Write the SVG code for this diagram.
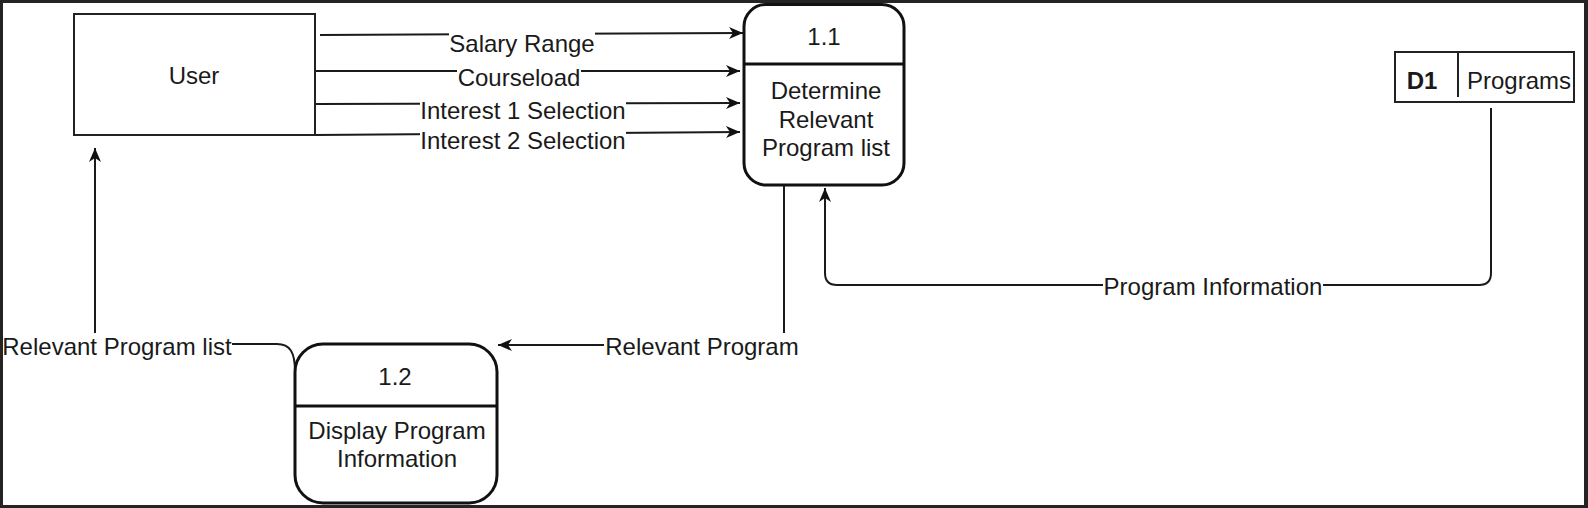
<svg xmlns="http://www.w3.org/2000/svg" width="1588" height="508" viewBox="0 0 1588 508">
<defs>
<marker id="arr" markerUnits="userSpaceOnUse" markerWidth="16" markerHeight="14" refX="14" refY="6" orient="auto">
<path d="M0,0 L14,6 L0,12 L4,6 Z" fill="#111"/>
</marker>
<style>
.t{font-family:"Liberation Sans",Arial,sans-serif;font-size:24px;fill:#1a1a1a;text-anchor:middle}
.b{font-weight:bold}
.edge{fill:none;stroke:#1a1a1a;stroke-width:2}
.proc{fill:#fff;stroke:#111;stroke-width:3}
.ent{fill:#fff;stroke:#222;stroke-width:2}
.lbl{fill:#fff}
</style>
</defs>
<rect x="0" y="0" width="1588" height="508" fill="#242424"/>
<rect x="3" y="3" width="1581" height="502" fill="#fff"/>

<g id="connectors">
<path class="edge" d="M320 35 L743 33" marker-end="url(#arr)"/>
<path class="edge" d="M315 71 L740 71" marker-end="url(#arr)"/>
<path class="edge" d="M315 104 L740 103" marker-end="url(#arr)"/>
<path class="edge" d="M315 135 L740 132" marker-end="url(#arr)"/>
<path class="edge" d="M784 186 L784 345 L498 345" marker-end="url(#arr)"/>
<path class="edge" d="M1491 108 L1491 273 Q1491 285 1479 285 L837 285 Q825 285 825 273 L825 188" marker-end="url(#arr)"/>
<path class="edge" d="M295 372 C295 352 290 344 277 344 L95 344 L95 148" marker-end="url(#arr)"/>
<rect class="lbl" x="449" y="31" width="146" height="26"/>
<text class="t" x="522" y="52">Salary Range</text>
<rect class="lbl" x="457" y="65" width="124" height="26"/>
<text class="t" x="519" y="86">Courseload</text>
<rect class="lbl" x="420" y="98" width="206" height="26"/>
<text class="t" x="523" y="119">Interest 1 Selection</text>
<rect class="lbl" x="420" y="128" width="206" height="26"/>
<text class="t" x="523" y="149">Interest 2 Selection</text>
<rect class="lbl" x="1103" y="273" width="220" height="27"/>
<text class="t" x="1213" y="295">Program Information</text>
<rect class="lbl" x="604" y="333" width="196" height="27"/>
<text class="t" x="702" y="355">Relevant Program</text>
<rect class="lbl" x="3" y="333" width="229" height="27"/>
<text class="t" x="117" y="355">Relevant Program list</text>
</g>

<g id="user">
<rect class="ent" x="74" y="14" width="241" height="121"/>
<text class="t" x="194" y="84">User</text>
</g>

<g id="p11">
<rect class="proc" x="744" y="4.5" width="160" height="180.5" rx="22"/>
<line x1="744" y1="64" x2="904" y2="64" stroke="#111" stroke-width="3"/>
<text class="t" x="824" y="45">1.1</text>
<text class="t" x="826" y="99">Determine</text>
<text class="t" x="826" y="128">Relevant</text>
<text class="t" x="826" y="156">Program list</text>
</g>

<g id="d1">
<rect class="ent" x="1395" y="52" width="179" height="50"/>
<line x1="1458" y1="52" x2="1458" y2="97" stroke="#222" stroke-width="2"/>
<text class="t b" x="1422" y="89">D1</text>
<text class="t" x="1519" y="89">Programs</text>
</g>

<g id="p12">
<rect class="proc" x="295" y="344" width="202" height="159" rx="28"/>
<line x1="295" y1="406" x2="497" y2="406" stroke="#111" stroke-width="3"/>
<text class="t" x="395" y="385">1.2</text>
<text class="t" x="397" y="439">Display Program</text>
<text class="t" x="397" y="467">Information</text>
</g>
</svg>
